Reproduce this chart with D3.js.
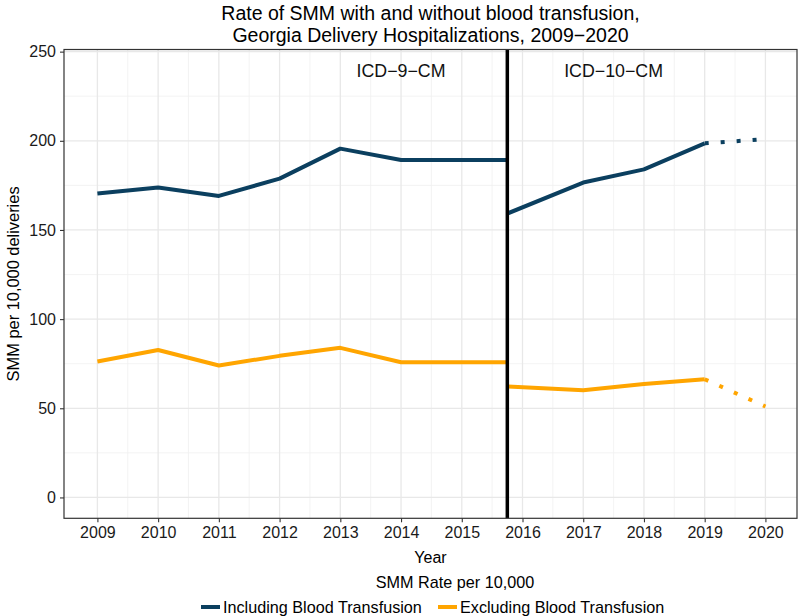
<!DOCTYPE html>
<html>
<head>
<meta charset="utf-8">
<script src="https://cdn.jsdelivr.net/npm/d3@7/dist/d3.min.js"></script>
<style>
  html, body { margin: 0; padding: 0; background: #fff; }
  svg { display: block; font-family: "Liberation Sans", Arial, sans-serif; }
</style>
</head>
<body>
<svg id="chart" width="800" height="616"></svg>
<script>
// ---- Data ----
const titleLines = ["Rate of SMM with and without blood transfusion,", "Georgia Delivery Hospitalizations, 2009\u22122020"];
const yearTicks = [2009, 2010, 2011, 2012, 2013, 2014, 2015, 2016, 2017, 2018, 2019, 2020];
const rateTicks = [0, 50, 100, 150, 200, 250];

// ICD-9-CM period (through Sept 2015)
const yearsICD9 = [2009, 2010, 2011, 2012, 2013, 2014, 2015, 2015.75];
const inclICD9 = [170.4, 173.8, 169.1, 178.8, 195.6, 189.2, 189.2, 189.2];
const exclICD9 = [76.2, 82.7, 74.0, 79.4, 83.9, 75.8, 75.8, 75.8];

// ICD-10-CM period (from Oct 2015)
const yearsICD10 = [2015.75, 2017, 2018, 2019];
const inclICD10 = [159.2, 176.6, 184.0, 198.6];
const exclICD10 = [62.2, 60.1, 63.6, 66.3];

// Provisional (dotted)
const yearsProv = [2019, 2020];
const inclProv = [198.6, 200.9];
const exclProv = [66.3, 51.0];

const codingChange = 2015.75;
const annotations = [{label: "ICD\u22129\u2212CM", year: 2014, value: 239}, {label: "ICD\u221210\u2212CM", year: 2017.5, value: 239}];
const seriesNames = ["Including Blood Transfusion", "Excluding Blood Transfusion"];
const seriesColors = ["#0b3f5f", "#ffa500"];

// ---- Layout ----
const svg = d3.select("#chart");
const panel = {left: 64, right: 797, top: 49.5, bottom: 518.3};
const x = d3.scaleLinear().domain([2008.45, 2020.52]).range([panel.left, panel.right]);
const y = d3.scaleLinear().domain([-11.7, 251.2]).range([panel.bottom, panel.top]);

// Grid
const grid = svg.append("g");
const minorY = d3.range(25, 250, 50);
const minorX = d3.range(2009.5, 2020, 1);
grid.selectAll(".my").data(minorY).enter().append("line")
  .attr("x1", panel.left).attr("x2", panel.right)
  .attr("y1", d => y(d)).attr("y2", d => y(d))
  .attr("stroke", "#f0f0f0").attr("stroke-width", 0.8);
grid.selectAll(".mx").data(minorX).enter().append("line")
  .attr("y1", panel.top).attr("y2", panel.bottom)
  .attr("x1", d => x(d)).attr("x2", d => x(d))
  .attr("stroke", "#f0f0f0").attr("stroke-width", 0.8);
grid.selectAll(".My").data(rateTicks).enter().append("line")
  .attr("x1", panel.left).attr("x2", panel.right)
  .attr("y1", d => y(d)).attr("y2", d => y(d))
  .attr("stroke", "#e8e8e8").attr("stroke-width", 1.3);
grid.selectAll(".Mx").data(yearTicks).enter().append("line")
  .attr("y1", panel.top).attr("y2", panel.bottom)
  .attr("x1", d => x(d)).attr("x2", d => x(d))
  .attr("stroke", "#e8e8e8").attr("stroke-width", 1.3);

// Lines
const line = d3.line().x(d => x(d[0])).y(d => y(d[1]));
function addLine(xs, ys, color, dotted) {
  const pts = xs.map((v, i) => [v, ys[i]]);
  const p = svg.append("path").attr("d", line(pts))
    .attr("fill", "none").attr("stroke", color).attr("stroke-width", 4);
  if (dotted) p.attr("stroke-dasharray", "4,12").attr("stroke-linecap", "butt");
  else p.attr("stroke-linejoin", "round").attr("stroke-linecap", "butt");
}
addLine(yearsICD9, inclICD9, seriesColors[0], false);
addLine(yearsICD10, inclICD10, seriesColors[0], false);
addLine(yearsProv, inclProv, seriesColors[0], true);
addLine(yearsICD9, exclICD9, seriesColors[1], false);
addLine(yearsICD10, exclICD10, seriesColors[1], false);
addLine(yearsProv, exclProv, seriesColors[1], true);

// Coding change line
svg.append("line")
  .attr("x1", x(codingChange)).attr("x2", x(codingChange))
  .attr("y1", panel.top).attr("y2", panel.bottom)
  .attr("stroke", "#000").attr("stroke-width", 3.5);

// Annotations
svg.selectAll(".ann").data(annotations).enter().append("text")
  .attr("x", d => x(d.year)).attr("y", d => y(d.value))
  .attr("text-anchor", "middle").attr("dominant-baseline", "central")
  .attr("font-size", 17.8).attr("fill", "#111").text(d => d.label);

// Panel border
svg.append("rect")
  .attr("x", panel.left).attr("y", panel.top)
  .attr("width", panel.right - panel.left).attr("height", panel.bottom - panel.top)
  .attr("fill", "none").attr("stroke", "#333").attr("stroke-width", 1.2);

// Axes
const xAxis = d3.axisBottom(x).tickValues(yearTicks).tickFormat(d3.format("d")).tickSize(4).tickPadding(4);
const yAxis = d3.axisLeft(y).tickValues(rateTicks).tickSize(4).tickPadding(4);
const gx = svg.append("g").attr("transform", `translate(0,${panel.bottom})`).call(xAxis);
const gy = svg.append("g").attr("transform", `translate(${panel.left},0)`).call(yAxis);
[gx, gy].forEach(g => {
  g.select(".domain").remove();
  g.selectAll(".tick line").attr("stroke", "#333").attr("stroke-width", 1.1);
  g.selectAll(".tick text").attr("fill", "#1a1a1a").attr("font-size", 16)
    .attr("font-family", "Liberation Sans, Arial, sans-serif");
});

// Titles
const cx = (panel.left + panel.right) / 2;
svg.selectAll(".title").data(titleLines).enter().append("text")
  .attr("x", cx).attr("y", (d, i) => 13 + i * 22)
  .attr("text-anchor", "middle").attr("dominant-baseline", "central")
  .attr("font-size", 19.5).attr("fill", "#000").text(d => d);

svg.append("text").attr("x", cx).attr("y", 557)
  .attr("text-anchor", "middle").attr("dominant-baseline", "central")
  .attr("font-size", 16).attr("fill", "#000").text("Year");

svg.append("text")
  .attr("transform", `translate(13,${(panel.top + panel.bottom) / 2}) rotate(-90)`)
  .attr("text-anchor", "middle").attr("dominant-baseline", "central")
  .attr("font-size", 16.4).attr("fill", "#000").text("SMM per 10,000 deliveries");

// Legend
svg.append("text").attr("x", 455).attr("y", 582)
  .attr("text-anchor", "middle").attr("dominant-baseline", "central")
  .attr("font-size", 16.2).attr("fill", "#000").text("SMM Rate per 10,000");

const legendX = [201, 438];
const lg = svg.selectAll(".lg").data(seriesNames).enter().append("g")
  .attr("transform", (d, i) => `translate(${legendX[i]},607)`);
lg.append("line").attr("x1", 0).attr("x2", 19).attr("y1", 0).attr("y2", 0)
  .attr("stroke", (d, i) => seriesColors[i]).attr("stroke-width", 4);
lg.append("text").attr("x", 22).attr("y", 0).attr("dominant-baseline", "central")
  .attr("font-size", 16.2).attr("fill", "#000").text(d => d);
</script>
</body>
</html>
